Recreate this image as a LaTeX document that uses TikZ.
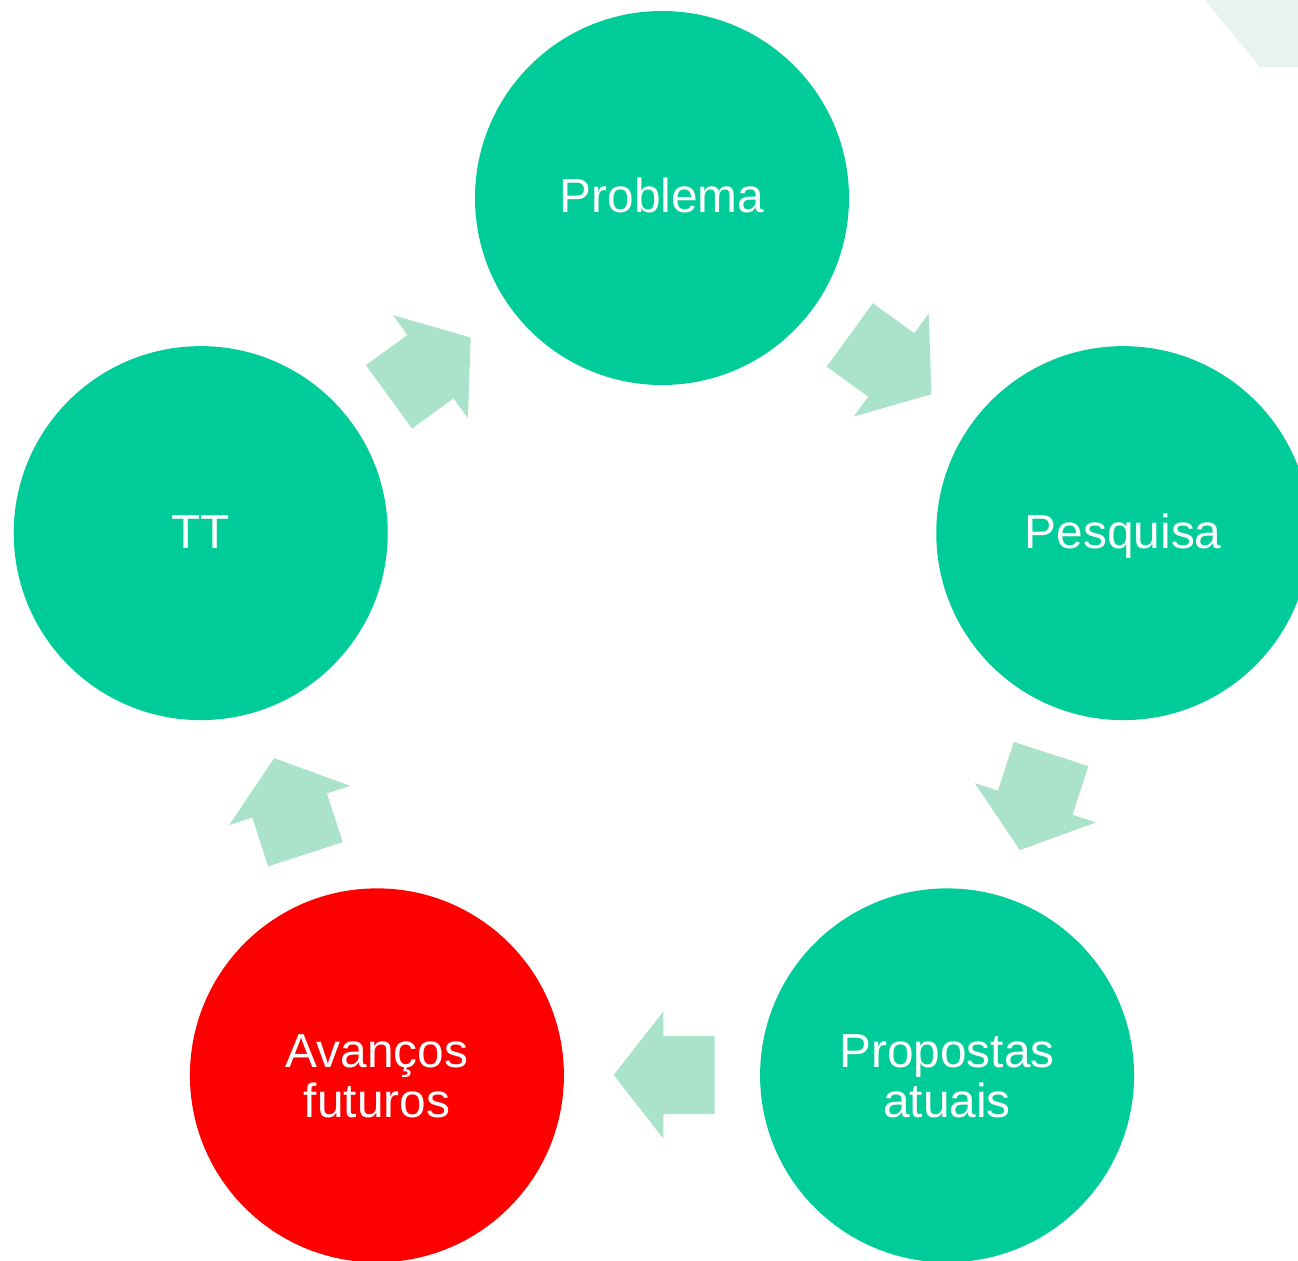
\documentclass[tikz,border=0pt]{standalone}
\usepackage{fontspec}
\setmainfont{Liberation Sans}
\usetikzlibrary{shapes.arrows}
\definecolor{stepgreen}{HTML}{00CC99}
\definecolor{flowgreen}{HTML}{ABE2CC}
\definecolor{futurered}{HTML}{FF0000}
\definecolor{cornertint}{HTML}{E8F2EF}

\begin{document}
\begin{tikzpicture}[
  stage/.style={circle, fill=stepgreen, draw=none, minimum size=3.74cm, inner sep=0pt, text=white, align=center, font=\fontsize{13.6}{14.2}\selectfont, text height=0.4cm, text depth=0.1cm},
  twoline/.style={text height=0.94cm, text depth=0.1cm},
  flow/.style={single arrow, fill=flowgreen, draw=none, inner xsep=0pt, inner ysep=0.385cm, minimum height=1.01cm, minimum width=1.26cm, single arrow head extend=0.245cm, single arrow tip angle=104},
  along/.style={rotate=#1, xshift=-0.175cm}
]
\useasboundingbox (0,0) rectangle (12.98,12.60);
\clip (0,0) rectangle (12.98,12.60);

% corner tint
\fill[cornertint] (12.05,12.60) -- (12.60,11.93) -- (12.98,11.93) -- (12.98,12.60) -- cycle;

\begin{scope}[shift={(6.62,5.77)}]
% Stages
\node[stage] (problema) at (90:4.85) {Problema};
\node[stage] (pesquisa) at (18:4.85) {Pesquisa};
\node[stage, twoline] (propostas) at (-54:4.85) {Propostas\\atuais};
\node[stage, twoline, fill=futurered] (avancos) at (-126:4.85) {Avanços\\futuros};
\node[stage] (tt) at (162:4.85) {TT};

% Block arrows
\node[flow, along=-36] (a1) at (54:3.92) {};
\node[flow, along=-108] (a2) at (-18:3.92) {};
\node[flow, along=180] (a3) at (-90:3.92) {};
\node[flow, along=108] (a4) at (-162:3.92) {};
\node[flow, along=36] (a5) at (126:3.92) {};
\end{scope}

\end{tikzpicture}
\end{document}
